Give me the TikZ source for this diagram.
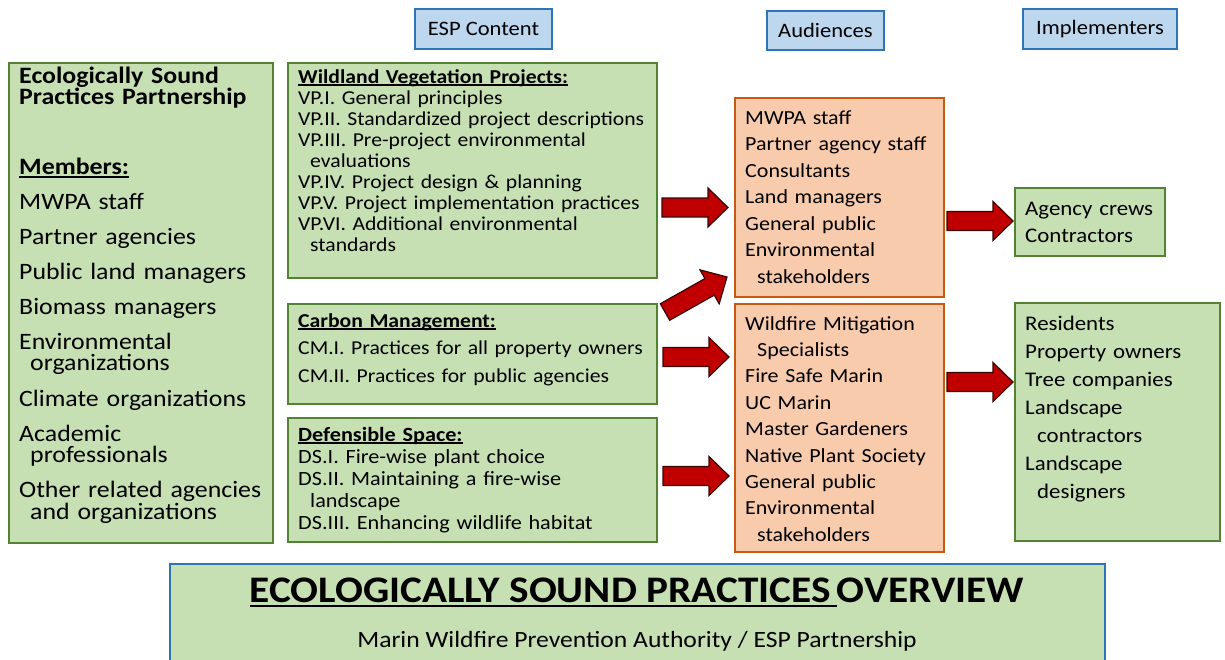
\documentclass[tikz,border=0pt]{standalone}
\usepackage{fontspec}
\setmainfont{Carlito}[FakeStretch=1.1]
\usetikzlibrary{calc}

\definecolor{boxgreen}{HTML}{C6E0B4}
\definecolor{edgegreen}{HTML}{548235}
\definecolor{boxorange}{HTML}{F8CBAD}
\definecolor{edgeorange}{HTML}{C55A11}
\definecolor{boxblue}{HTML}{BDD7EE}
\definecolor{edgeblue}{HTML}{2E75B6}
\definecolor{arrowred}{HTML}{C00000}
\definecolor{arrowedge}{HTML}{3A0505}

% underline that sits just below the baseline
\newcommand\ulbox[1]{\setbox0=\hbox{#1}\rlap{\rule[-0.14em]{\wd0}{0.07em}}\box0\relax}
% font size with a fixed line pitch
\newcommand\fsz[2]{\fontsize{#1}{#2}\selectfont\lineskiplimit=-100pt\relax}

% a box given by its top-left and bottom-right corners
\newcommand\panel[6]{\node[#2, minimum width={#5-#3}, minimum height={#6-#4}] (#1) at (#3,#4) {};}

% fat red block arrow from one named point to another
\newcommand\blockarrow[2]{%
  \path let \p1=($(#2)-(#1)$) in
    \pgfextra{\pgfmathsetmacro\arrang{atan2(\y1,\x1)}%
              \pgfmathsetmacro\arrlen{veclen(\x1,\y1)}%
              \global\let\arrang\arrang\global\let\arrlen\arrlen};
  \begin{scope}[shift={(#1)}, rotate=\arrang]
    \draw[blockarr] (0,-9.5) -- (\arrlen-20,-9.5) -- (\arrlen-20,-19.5) -- (\arrlen,0)
      -- (\arrlen-20,19.5) -- (\arrlen-20,9.5) -- (0,9.5) -- cycle;
  \end{scope}}

\begin{document}
\begin{tikzpicture}[x=1pt, y=-1pt,
  boxbase/.style={anchor=north west, inner sep=0pt, outer sep=0pt},
  greenbox/.style={boxbase, draw=edgegreen, fill=boxgreen, line width=2.2pt},
  orangebox/.style={boxbase, draw=edgeorange, fill=boxorange, line width=2.6pt},
  bluebox/.style={boxbase, draw=edgeblue, fill=boxblue, line width=2pt},
  banner/.style={boxbase, draw=edgeblue, fill=boxgreen, line width=2.2pt},
  txt/.style={anchor=base west, inner sep=0pt, text width=420pt, align=left},
  headtxt/.style={inner sep=0pt, font=\fsz{20.5}{24}},
  blockarr/.style={draw=arrowedge, fill=arrowred, line width=1.2pt, line join=miter}]

\useasboundingbox (0,0) rectangle (1225,659);
\fill[white] (0,0) rectangle (1225,659);

% column headings
\panel{hesp}{bluebox}{415}{9}{552}{49}
\panel{haud}{bluebox}{767}{11}{884}{50}
\panel{himp}{bluebox}{1023}{9}{1177}{49}
\node[headtxt] (hesptxt) at (hesp.center) {ESP Content};
\node[headtxt] (haudtxt) at (haud.center) {Audiences};
\node[headtxt] (himptxt) at (himp.center) {Implementers};

% boxes
\panel{members}{greenbox}{9}{63}{273}{543}
\panel{vp}{greenbox}{288}{63}{657}{278}
\panel{cm}{greenbox}{288}{304}{657}{404}
\panel{ds}{greenbox}{288}{418}{657}{542}
\panel{audtop}{orangebox}{735}{98}{944}{297}
\panel{audbot}{orangebox}{735}{304}{944}{552}
\panel{crews}{greenbox}{1015}{188}{1165}{256}
\panel{locals}{greenbox}{1015}{303}{1220}{541}
\panel{title}{banner}{170}{564}{1105}{690}

% partnership members
\node[txt, font=\fsz{23.5}{21.3}] (memberstxt) at (19,83)
  {\textbf{Ecologically Sound}\\
   \textbf{Practices Partnership}\\[48.7pt]
   \textbf{\ulbox{Members:}}\\[13.7pt]
   MWPA staff\\[13.7pt]
   Partner agencies\\[13.7pt]
   Public land managers\\[13.7pt]
   Biomass managers\\[13.7pt]
   Environmental\\
   \hspace*{11pt}organizations\\[14.7pt]
   Climate organizations\\[13.7pt]
   Academic\\
   \hspace*{11pt}professionals\\[13.7pt]
   Other related agencies\\
   \hspace*{11pt}and organizations};

% ESP content
\node[txt, font=\fsz{19.7}{21.1}] (vptxt) at (298,83)
  {\textbf{\ulbox{Wildland Vegetation Projects:}}\\
   VP.I. General principles\\
   VP.II. Standardized project descriptions\\
   VP.III. Pre-project environmental\\
   \hspace*{12pt}evaluations\\
   VP.IV. Project design \& planning\\
   VP.V. Project implementation practices\\
   VP.VI. Additional environmental\\
   \hspace*{12pt}standards};

\node[txt, font=\fsz{19.7}{27.5}] (cmtxt) at (298,327)
  {\textbf{\ulbox{Carbon Management:}}\\
   CM.I. Practices for all property owners\\
   CM.II. Practices for public agencies};

\node[txt, font=\fsz{20.2}{22}] (dstxt) at (298,441)
  {\textbf{\ulbox{Defensible Space:}}\\
   DS.I. Fire-wise plant choice\\
   DS.II. Maintaining a fire-wise\\
   \hspace*{12pt}landscape\\
   DS.III. Enhancing wildlife habitat};

% audiences
\node[txt, font=\fsz{20}{26.5}] (audtoptxt) at (745,124)
  {MWPA staff\\
   Partner agency staff\\
   Consultants\\
   Land managers\\
   General public\\
   Environmental\\
   \hspace*{12pt}stakeholders};

\node[txt, font=\fsz{20}{26.4}] (audbottxt) at (745,330)
  {Wildfire Mitigation\\
   \hspace*{12pt}Specialists\\
   Fire Safe Marin\\
   UC Marin\\
   Master Gardeners\\
   Native Plant Society\\
   General public\\
   Environmental\\
   \hspace*{12pt}stakeholders};

% implementers
\node[txt, font=\fsz{20.8}{27.5}] (crewstxt) at (1025,215)
  {Agency crews\\
   Contractors};

\node[txt, font=\fsz{20.8}{28}] (localstxt) at (1025,330)
  {Residents\\
   Property owners\\
   Tree companies\\
   Landscape\\
   \hspace*{12pt}contractors\\
   Landscape\\
   \hspace*{12pt}designers};

% overview banner
\node[anchor=base, inner sep=0pt, font=\fsz{37.5}{40}\bfseries] (titletxt) at (637,602)
  {\ulbox{ECOLOGICALLY SOUND PRACTICES\,}OVERVIEW};
\node[anchor=base, inner sep=0pt, font=\fsz{23.3}{26}] (subtxt) at (637,647)
  {Marin Wildfire Prevention Authority / ESP Partnership};

% arrow end points
\coordinate (vpout)  at ([xshift=5pt]vp.east |- 0,207.5);
\coordinate (vpin)   at ([xshift=-7pt]audtop.west |- 0,207.5);
\coordinate (cmup)   at (665,312);
\coordinate (cmupin) at (727,277);
\coordinate (cmout)  at ([xshift=6pt]cm.east |- 0,357);
\coordinate (cmin)   at ([xshift=-6pt]audbot.west |- 0,357);
\coordinate (dsout)  at ([xshift=6pt]ds.east |- 0,476);
\coordinate (dsin)   at ([xshift=-6pt]audbot.west |- 0,476);
\coordinate (topout) at ([xshift=3pt]audtop.east |- 0,221);
\coordinate (topin)  at ([xshift=-2pt]crews.west |- 0,221);
\coordinate (botout) at ([xshift=3pt]audbot.east |- 0,382);
\coordinate (botin)  at ([xshift=-2pt]locals.west |- 0,382);

\blockarrow{vpout}{vpin}
\blockarrow{cmup}{cmupin}
\blockarrow{cmout}{cmin}
\blockarrow{dsout}{dsin}
\blockarrow{topout}{topin}
\blockarrow{botout}{botin}

\end{tikzpicture}
\end{document}
